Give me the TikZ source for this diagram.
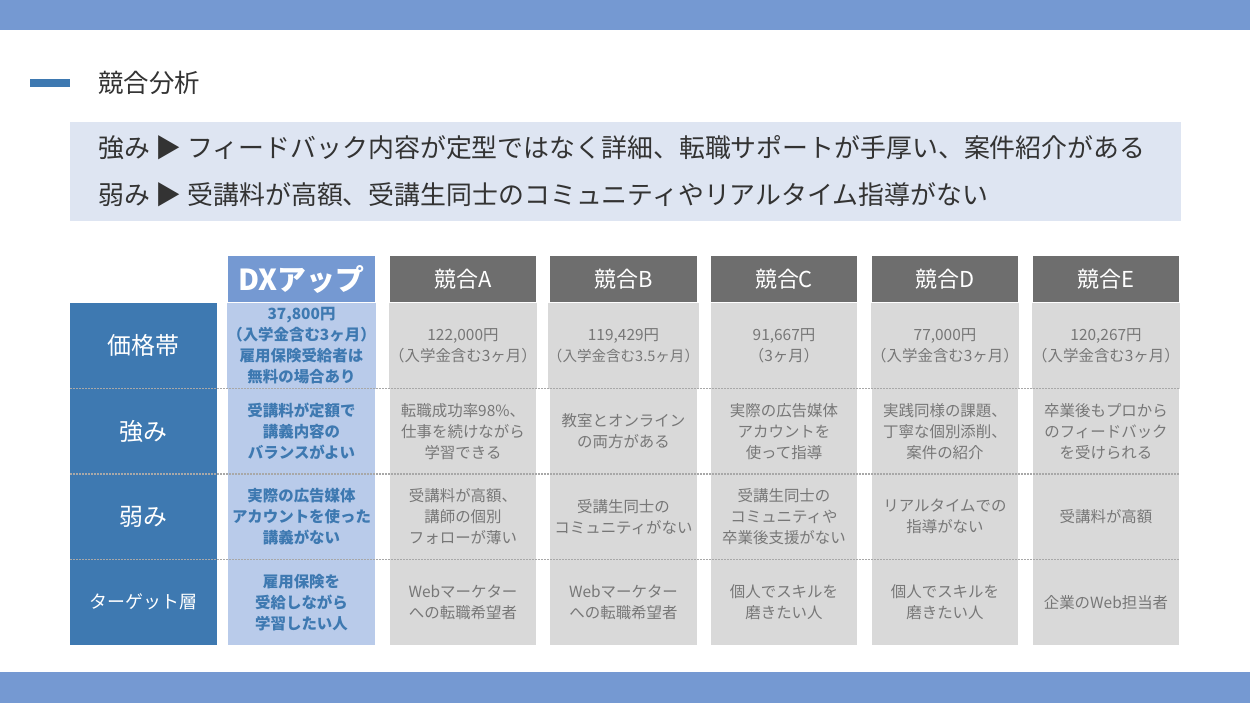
\documentclass[tikz,border=0pt]{standalone}
\usepackage{fontspec}
\setmainfont{Noto Sans CJK JP}
\usepackage{tikz}
\definecolor{barblue}{HTML}{7599D2}
\definecolor{labblue}{HTML}{3E79B1}
\definecolor{dxlight}{HTML}{B9CBEA}
\definecolor{sumblue}{HTML}{DEE5F2}
\definecolor{hdrgray}{HTML}{6E6E6E}
\definecolor{cellgray}{HTML}{D9D9D9}
\definecolor{txtgray}{HTML}{777777}
\definecolor{sepgray}{HTML}{A8A8A8}
\definecolor{darktxt}{HTML}{333333}
\tikzset{hdr/.style={fill=hdrgray,text=white,minimum width=146.5bp,minimum height=46bp,inner sep=0pt,font=\fontsize{22}{26}\selectfont},
cell/.style={fill=cellgray,minimum width=146.5bp,minimum height=85.5bp,inner sep=0pt,align=center,text=txtgray,font=\fontsize{15.5}{21}\selectfont},
dxcell/.style={cell,fill=dxlight,text=labblue,font=\bfseries\fontsize{15.5}{21}\selectfont},
labcell/.style={cell,fill=labblue,text=white,font=\fontsize{24}{28}\selectfont},
sumline/.style={anchor=west,inner sep=0pt,text=darktxt,font=\fontsize{26}{30}\selectfont},
sep/.style={draw=sepgray,line width=1.5bp,dash pattern=on 1.5bp off 1.5bp}}

\begin{document}
\begin{tikzpicture}[x=1bp,y=-1bp]
\useasboundingbox (0,0) rectangle (1250,703);
\fill[barblue] (0,0) rectangle (1250,30);
\fill[barblue] (0,672) rectangle (1250,703);
\fill[labblue] (30,79) rectangle (70,87);
\node[anchor=west,inner sep=0pt,text=darktxt,font=\fontsize{25.5}{30}\selectfont] (title) at (98,83) {競合分析};
\fill[sumblue] (70,122) rectangle (1181,221);
\node[sumline] (strong) at (98,148) {強み ▶ フィードバック内容が定型ではなく詳細、転職サポートが手厚い、案件紹介がある};
\node[sumline] (weak) at (98,195) {弱み ▶ 受講料が高額、受講生同士のコミュニティやリアルタイム指導がない};

\node[hdr,fill=barblue,font=\bfseries\fontsize{29}{32}\selectfont] (hdx) at (301.5,279) {DXアップ};
\foreach \c/\x in {A/463,B/623.5,C/784,D/945,E/1106}
\node[hdr] (h\c) at (\x,279) {競合\c};

\node[labcell] (lab1) at (143.5,345.75) {価格帯};
\node[labcell] (lab2) at (143.5,431.25) {強み};
\node[labcell] (lab3) at (143.5,516.75) {弱み};
\node[labcell,font=\fontsize{18}{20}\selectfont] (lab4) at (143.5,602.25) {ターゲット層};

\node[dxcell] (dx1) at (301.5,345.75) {37,800円\\（入学金含む3ヶ月）\\雇用保険受給者は\\無料の場合あり};
\node[dxcell] (dx2) at (301.5,431.25) {受講料が定額で\\講義内容の\\バランスがよい};
\node[dxcell] (dx3) at (301.5,516.75) {実際の広告媒体\\アカウントを使った\\講義がない};
\node[dxcell] (dx4) at (301.5,602.25) {雇用保険を\\受給しながら\\学習したい人};

\node[cell] (a1) at (463,345.75) {122,000円\\（入学金含む3ヶ月）};
\node[cell] (a2) at (463,431.25) {転職成功率98\%、\\仕事を続けながら\\学習できる};
\node[cell] (a3) at (463,516.75) {受講料が高額、\\講師の個別\\フォローが薄い};
\node[cell] (a4) at (463,602.25) {Webマーケター\\への転職希望者};

\node[cell] (b1) at (623.5,345.75) {119,429円\\{\fontsize{14.6}{21}\selectfont（入学金含む3.5ヶ月）}};
\node[cell] (b2) at (623.5,431.25) {教室とオンライン\\の両方がある};
\node[cell] (b3) at (623.5,516.75) {受講生同士の\\コミュニティがない};
\node[cell] (b4) at (623.5,602.25) {Webマーケター\\への転職希望者};

\node[cell] (c1) at (784,345.75) {91,667円\\（3ヶ月）};
\node[cell] (c2) at (784,431.25) {実際の広告媒体\\アカウントを\\使って指導};
\node[cell] (c3) at (784,516.75) {受講生同士の\\コミュニティや\\卒業後支援がない};
\node[cell] (c4) at (784,602.25) {個人でスキルを\\磨きたい人};

\node[cell] (d1) at (945,345.75) {77,000円\\（入学金含む3ヶ月）};
\node[cell] (d2) at (945,431.25) {実践同様の課題、\\丁寧な個別添削、\\案件の紹介};
\node[cell] (d3) at (945,516.75) {リアルタイムでの\\指導がない};
\node[cell] (d4) at (945,602.25) {個人でスキルを\\磨きたい人};

\node[cell] (e1) at (1106,345.75) {120,267円\\（入学金含む3ヶ月）};
\node[cell] (e2) at (1106,431.25) {卒業後もプロから\\のフィードバック\\を受けられる};
\node[cell] (e3) at (1106,516.75) {受講料が高額};
\node[cell] (e4) at (1106,602.25) {企業のWeb担当者};

\foreach \r in {1,2,3}
\draw[sep] (lab\r.south west) -- (e\r.south east);
\end{tikzpicture}
\end{document}
